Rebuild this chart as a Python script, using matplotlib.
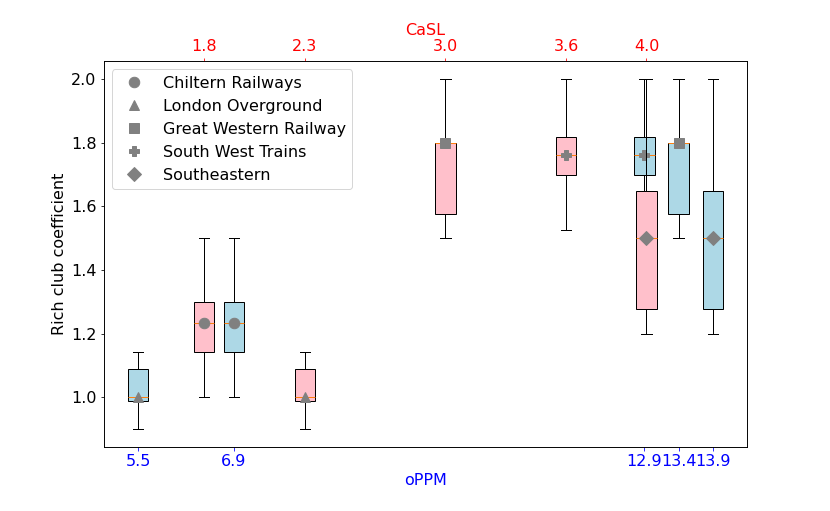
import matplotlib
matplotlib.use("Agg")
import matplotlib.pyplot as plt

# Operators and their positions on the two axes
operators = ["Chiltern Railways", "London Overground", "Great Western Railway",
             "South West Trains", "Southeastern"]
markers = ["o", "^", "s", "P", "D"]
casl = [1.8, 2.3, 3.0, 3.6, 4.0]
oppm = [6.9, 5.5, 13.4, 12.9, 13.9]

# Rich club coefficient box statistics per operator
whislo = [1.0, 0.9, 1.5, 1.525, 1.2]
q1 = [1.143, 0.988, 1.575, 1.697, 1.277]
med = [1.233, 1.0, 1.8, 1.762, 1.5]
q3 = [1.3, 1.09, 1.8, 1.817, 1.649]
whishi = [1.5, 1.143, 2.0, 2.0, 2.0]

FS = 16
MS = 10.5
plt.rcParams['font.size'] = FS

stats = []
for i in range(len(operators)):
    stats.append(dict(whislo=whislo[i], q1=q1[i], med=med[i], q3=q3[i],
                      whishi=whishi[i], fliers=[], label=operators[i]))

DPI = 72
fig = plt.figure(figsize=(830 / DPI, 511 / DPI), dpi=DPI)
ax = fig.add_subplot(111)
fig.subplots_adjust(left=0.125, right=0.9, top=0.88, bottom=0.126)

# bottom axis: oPPM (light blue boxes)
b1 = ax.bxp(stats, positions=oppm, widths=0.3, patch_artist=True,
            showfliers=False, manage_ticks=False)
for p in b1['boxes']:
    p.set_facecolor('lightblue')
for i in range(len(operators)):
    ax.plot(oppm[i], med[i], linestyle='none', marker=markers[i],
            color='grey', markersize=MS, zorder=5)
ax.set_xlim(min(oppm) - 0.5, max(oppm) + 0.5)
ax.set_xticks(sorted(oppm))
ax.set_xticklabels([str(v) for v in sorted(oppm)])
ax.tick_params(axis='x', colors='blue', labelsize=FS)
ax.tick_params(axis='y', labelsize=FS)
ax.set_xlabel("oPPM", color='blue', fontsize=FS)
ax.set_ylabel("Rich club coefficient", fontsize=FS)

# top axis: CaSL (pink boxes)
ax2 = ax.twiny()
b2 = ax2.bxp(stats, positions=casl, widths=0.1, patch_artist=True,
             showfliers=False, manage_ticks=False)
for p in b2['boxes']:
    p.set_facecolor('pink')
handles = []
for i in range(len(operators)):
    h, = ax2.plot(casl[i], med[i], linestyle='none', marker=markers[i],
                  color='grey', markersize=MS, zorder=5, label=operators[i])
    handles.append(h)
ax2.set_xlim(min(casl) - 0.5, max(casl) + 0.5)
ax2.set_xticks(casl)
ax2.set_xticklabels([str(v) for v in casl])
ax2.tick_params(axis='x', colors='red', labelsize=FS)
ax2.set_xlabel("CaSL", color='red', fontsize=FS)

ax.set_ylim(0.845, 2.055)
ax.set_yticks([1.0, 1.2, 1.4, 1.6, 1.8, 2.0])

ax2.legend(handles=handles, loc='upper left', fontsize=FS)

fig.savefig("out.png", dpi=DPI)
